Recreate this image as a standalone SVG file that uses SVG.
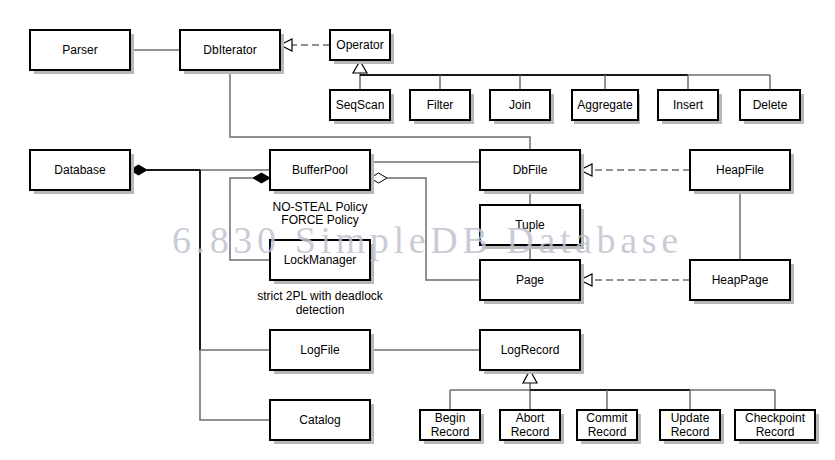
<svg xmlns="http://www.w3.org/2000/svg" width="835" height="460" viewBox="0 0 835 460">
<style>
.sh{fill:#b8b8b8}
.bx{fill:#fff;stroke:#000;stroke-width:2}
.t{font-family:"Liberation Sans",Arial,sans-serif;font-size:12px;fill:#000;text-anchor:middle}
.g{fill:none;stroke:#6e6e6e;stroke-width:1.5}
.k{fill:none;stroke:#1a1a1a;stroke-width:2}
.d{fill:none;stroke:#6e6e6e;stroke-width:1.5;stroke-dasharray:7 4}
.tri{fill:#fff;stroke:#000;stroke-width:1.2}
.dk{fill:#000;stroke:#000;stroke-width:1}
.dw{fill:#fff;stroke:#000;stroke-width:1}
.wm{font-family:"Liberation Serif","DejaVu Serif",serif;font-size:38px;fill:#bfc3cf;fill-opacity:0.85}
</style>
<rect width="835" height="460" fill="#fff"/>
<g id="connectors">
<line class="g" x1="130" y1="50" x2="180" y2="50"/>
<line class="d" x1="330" y1="45" x2="292" y2="45"/>
<polygon class="tri" points="280,45 292,39 292,51"/>
<line class="g" x1="360" y1="73" x2="360" y2="90"/>
<line class="k" x1="360" y1="75" x2="688" y2="75"/>
<line class="g" x1="688" y1="75" x2="770" y2="75"/>
<line class="g" x1="440" y1="75" x2="440" y2="90"/>
<line class="g" x1="520" y1="75" x2="520" y2="90"/>
<line class="g" x1="605" y1="75" x2="605" y2="90"/>
<line class="g" x1="688" y1="75" x2="688" y2="90"/>
<line class="g" x1="770" y1="75" x2="770" y2="90"/>
<polygon class="tri" points="360,61 367,73 353,73"/>
<polyline class="g" points="230,70 230,137 530,137 530,150"/>
<line class="k" x1="147" y1="170" x2="200" y2="170"/>
<line class="g" x1="200" y1="170" x2="270" y2="170"/>
<polygon class="dk" points="130,170 138.5,165 147,170 138.5,175"/>
<line class="k" x1="200" y1="170" x2="200" y2="350"/>
<polyline class="g" points="200,350 200,420 270,420"/>
<line class="g" x1="200" y1="350" x2="270" y2="350"/>
<polyline class="g" points="253,178 230,178 230,260 270,260"/>
<polygon class="dk" points="270,178 261.5,173 253,178 261.5,183"/>
<line class="g" x1="370" y1="162" x2="480" y2="162"/>
<polyline class="g" points="387,178 426,178 426,280 480,280"/>
<polygon class="dw" points="370,178 378.5,173 387,178 378.5,183"/>
<line class="g" x1="530" y1="190" x2="530" y2="205"/>
<line class="g" x1="530" y1="245" x2="530" y2="260"/>
<line class="d" x1="690" y1="170" x2="592" y2="170"/>
<polygon class="tri" points="580,170 592,164 592,176"/>
<line class="d" x1="690" y1="280" x2="592" y2="280"/>
<polygon class="tri" points="580,280 592,274 592,286"/>
<line class="g" x1="740" y1="190" x2="740" y2="260"/>
<line class="g" x1="370" y1="350" x2="480" y2="350"/>
<line class="g" x1="530" y1="383" x2="530" y2="410"/>
<line class="g" x1="450" y1="390" x2="530" y2="390"/>
<line class="k" x1="530" y1="390" x2="690" y2="390"/>
<line class="g" x1="690" y1="390" x2="775" y2="390"/>
<line class="g" x1="450" y1="390" x2="450" y2="410"/>
<line class="g" x1="607" y1="390" x2="607" y2="410"/>
<line class="g" x1="690" y1="390" x2="690" y2="410"/>
<line class="g" x1="775" y1="390" x2="775" y2="410"/>
<polygon class="tri" points="530,370 537,383 523,383"/>
</g>
<g id="parser"><rect class="sh" x="34" y="34" width="100" height="40"/><rect class="bx" x="30" y="30" width="100" height="40"/><text class="t" x="80" y="54">Parser</text></g>
<g id="dbiterator"><rect class="sh" x="184" y="34" width="100" height="40"/><rect class="bx" x="180" y="30" width="100" height="40"/><text class="t" x="230" y="54">DbIterator</text></g>
<g id="operator"><rect class="sh" x="334" y="34" width="60" height="30"/><rect class="bx" x="330" y="30" width="60" height="30"/><text class="t" x="360" y="49">Operator</text></g>
<g id="seqscan"><rect class="sh" x="334" y="94" width="60" height="30"/><rect class="bx" x="330" y="90" width="60" height="30"/><text class="t" x="360" y="109">SeqScan</text></g>
<g id="filter"><rect class="sh" x="414" y="94" width="60" height="30"/><rect class="bx" x="410" y="90" width="60" height="30"/><text class="t" x="440" y="109">Filter</text></g>
<g id="join"><rect class="sh" x="494" y="94" width="60" height="30"/><rect class="bx" x="490" y="90" width="60" height="30"/><text class="t" x="520" y="109">Join</text></g>
<g id="aggregate"><rect class="sh" x="574" y="94" width="66" height="30"/><rect class="bx" x="572" y="90" width="66" height="30"/><text class="t" x="605" y="109">Aggregate</text></g>
<g id="insert"><rect class="sh" x="662" y="94" width="60" height="30"/><rect class="bx" x="658" y="90" width="60" height="30"/><text class="t" x="688" y="109">Insert</text></g>
<g id="delete"><rect class="sh" x="744" y="94" width="60" height="30"/><rect class="bx" x="740" y="90" width="60" height="30"/><text class="t" x="770" y="109">Delete</text></g>
<g id="database"><rect class="sh" x="34" y="154" width="100" height="40"/><rect class="bx" x="30" y="150" width="100" height="40"/><text class="t" x="80" y="174">Database</text></g>
<g id="bufferpool"><rect class="sh" x="274" y="154" width="100" height="40"/><rect class="bx" x="270" y="150" width="100" height="40"/><text class="t" x="320" y="174">BufferPool</text>
<text class="t" x="320" y="211">NO-STEAL Policy</text><text class="t" x="320" y="224">FORCE Policy</text></g>
<g id="lockmanager"><rect class="sh" x="274" y="244" width="100" height="40"/><rect class="bx" x="270" y="240" width="100" height="40"/><text class="t" x="320" y="264">LockManager</text>
<text class="t" x="320" y="300">strict 2PL with deadlock</text><text class="t" x="320" y="314">detection</text></g>
<g id="dbfile"><rect class="sh" x="484" y="154" width="100" height="40"/><rect class="bx" x="480" y="150" width="100" height="40"/><text class="t" x="530" y="174">DbFile</text></g>
<g id="tuple"><rect class="sh" x="484" y="209" width="100" height="40"/><rect class="bx" x="480" y="205" width="100" height="40"/><text class="t" x="530" y="229">Tuple</text></g>
<g id="page"><rect class="sh" x="484" y="264" width="100" height="40"/><rect class="bx" x="480" y="260" width="100" height="40"/><text class="t" x="530" y="284">Page</text></g>
<g id="heapfile"><rect class="sh" x="694" y="154" width="100" height="40"/><rect class="bx" x="690" y="150" width="100" height="40"/><text class="t" x="740" y="174">HeapFile</text></g>
<g id="heappage"><rect class="sh" x="694" y="264" width="100" height="40"/><rect class="bx" x="690" y="260" width="100" height="40"/><text class="t" x="740" y="284">HeapPage</text></g>
<g id="logfile"><rect class="sh" x="274" y="334" width="100" height="40"/><rect class="bx" x="270" y="330" width="100" height="40"/><text class="t" x="320" y="354">LogFile</text></g>
<g id="catalog"><rect class="sh" x="274" y="404" width="100" height="40"/><rect class="bx" x="270" y="400" width="100" height="40"/><text class="t" x="320" y="424">Catalog</text></g>
<g id="logrecord"><rect class="sh" x="484" y="334" width="100" height="40"/><rect class="bx" x="480" y="330" width="100" height="40"/><text class="t" x="530" y="354">LogRecord</text></g>
<g id="beginrecord"><rect class="sh" x="424" y="414" width="60" height="30"/><rect class="bx" x="420" y="410" width="60" height="30"/><text class="t" x="450" y="422">Begin</text><text class="t" x="450" y="436">Record</text></g>
<g id="abortrecord"><rect class="sh" x="504" y="414" width="60" height="30"/><rect class="bx" x="500" y="410" width="60" height="30"/><text class="t" x="530" y="422">Abort</text><text class="t" x="530" y="436">Record</text></g>
<g id="commitrecord"><rect class="sh" x="581" y="414" width="60" height="30"/><rect class="bx" x="577" y="410" width="60" height="30"/><text class="t" x="607" y="422">Commit</text><text class="t" x="607" y="436">Record</text></g>
<g id="updaterecord"><rect class="sh" x="664" y="414" width="60" height="30"/><rect class="bx" x="660" y="410" width="60" height="30"/><text class="t" x="690" y="422">Update</text><text class="t" x="690" y="436">Record</text></g>
<g id="checkpointrecord"><rect class="sh" x="739" y="414" width="80" height="30"/><rect class="bx" x="735" y="410" width="80" height="30"/><text class="t" x="775" y="422">Checkpoint</text><text class="t" x="775" y="436">Record</text></g>
<text class="wm" x="172" y="253" textLength="506" lengthAdjust="spacing">6.830 SimpleDB Database</text>
</svg>
